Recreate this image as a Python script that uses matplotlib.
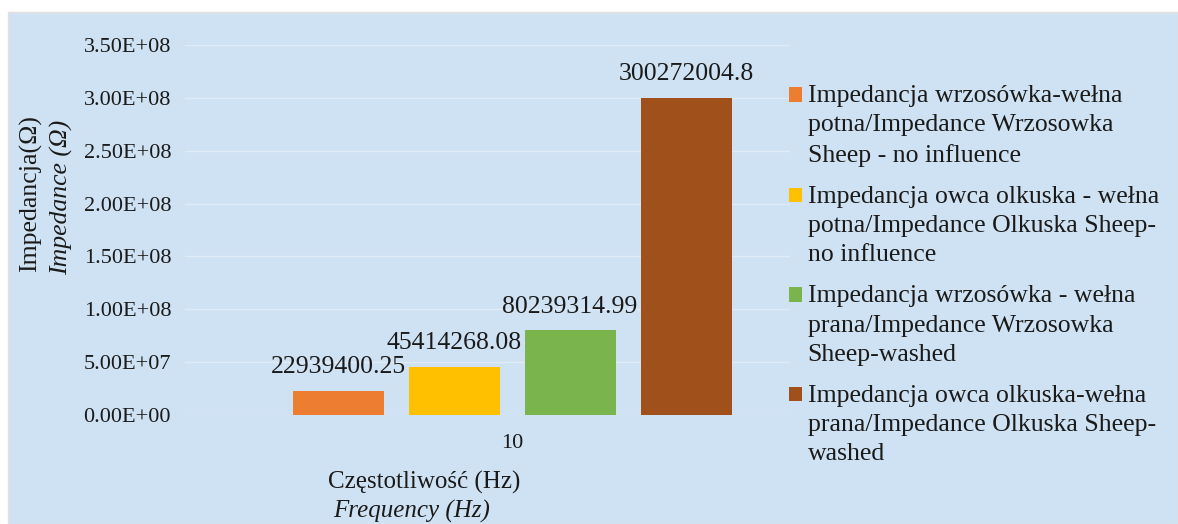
import matplotlib.pyplot as plt
import matplotlib.patches as mpatches
from matplotlib.container import BarContainer
from matplotlib.legend_handler import HandlerPatch, update_from_first_child
from matplotlib.ticker import FuncFormatter

# Data
category = '10'
series = [
    'Impedancja wrzosówka-wełna\npotna/Impedance Wrzosowka\nSheep - no influence',
    'Impedancja owca olkuska - wełna\npotna/Impedance Olkuska Sheep-\nno influence',
    'Impedancja wrzosówka - wełna\nprana/Impedance Wrzosowka\nSheep-washed',
    'Impedancja owca olkuska-wełna\nprana/Impedance Olkuska Sheep-\nwashed',
]
values = [22939400.25, 45414268.08, 80239314.99, 300272004.8]
value_labels = ['22939400.25', '45414268.08', '80239314.99', '300272004.8']
colors = ['#ED7D31', '#FFC000', '#7AB44C', '#A0501A']

bg = '#cfe2f3'
txt = '#1a1a1a'
plt.rcParams['font.family'] = ['Liberation Serif', 'DejaVu Serif']

W, H = 1178, 524
fig = plt.figure(figsize=(W / 100, H / 100), dpi=100)
fig.patch.set_facecolor('white')
fig.patches.append(mpatches.Rectangle((8 / W, 0), 1 - 8 / W, 1 - 12 / H,
                                      transform=fig.transFigure,
                                      facecolor=bg, edgecolor='#e6e0da',
                                      linewidth=1, zorder=-10))

ax = fig.add_axes([185 / W, 1 - 415 / H, (790 - 185) / W, (415 - 45) / H])
ax.set_facecolor('none')

slot = 116.0
offsets = [-1.5, -0.5, 0.5, 1.5]
for off, v, c, lab in zip(offsets, values, colors, series):
    ax.bar(off, v, width=91 / slot, color=c, label=lab, zorder=3)

for off, v, t in zip(offsets, values, value_labels):
    ax.annotate(t, (off, v), xytext=(0, 9), textcoords='offset points',
                ha='center', va='bottom', fontsize=18.5, color=txt)

ax.set_xlim((185 - 512) / slot, (790 - 512) / slot)
ax.set_ylim(0, 3.5e8)
ax.set_yticks([i * 0.5e8 for i in range(8)])
ax.yaxis.set_major_formatter(FuncFormatter(lambda v, p: f'{v:.2E}'))
ax.set_xticks([0])
ax.set_xticklabels([category])
ax.tick_params(axis='both', length=0, labelsize=16, colors=txt)
ax.tick_params(axis='y', pad=10)
ax.tick_params(axis='x', pad=14)
ax.grid(axis='y', color='#e0ebf6', linewidth=1, zorder=0)
for s in ax.spines.values():
    s.set_visible(False)

# axis titles
fig.text(30 / W, 1 - 194 / H, 'Impedancja(Ω)', rotation=90, ha='center', va='center',
         fontsize=18.5, color=txt)
fig.text(62 / W, 1 - 197 / H, 'Impedance (Ω)', rotation=90, ha='center', va='center',
         fontsize=18.5, style='italic', color=txt)
fig.text(424 / W, 1 - 482 / H, 'Częstotliwość (Hz)', ha='center', va='center',
         fontsize=18, color=txt)
fig.text(412 / W, 1 - 511 / H, 'Frequency (Hz)', ha='center', va='center',
         fontsize=18, style='italic', color=txt)


# legend squares sit next to the first line of each entry
def top_square(legend, orig_handle, xdescent, ydescent, width, height, fontsize):
    return mpatches.Rectangle((-xdescent, -ydescent + 22), width, height)


leg = ax.legend(loc='upper left', bbox_to_anchor=(789 / W, 1 - 85 / H),
                bbox_transform=fig.transFigure, frameon=False,
                fontsize=18.5, handlelength=0.5, handleheight=0.5,
                handletextpad=0.22, labelspacing=0.75, borderpad=0,
                borderaxespad=0,
                handler_map={BarContainer: HandlerPatch(
                    patch_func=top_square, update_func=update_from_first_child)})
for t in leg.get_texts():
    t.set_color(txt)
    t.set_linespacing(1.42)

fig.savefig('out.png', dpi=100, facecolor=fig.get_facecolor())
